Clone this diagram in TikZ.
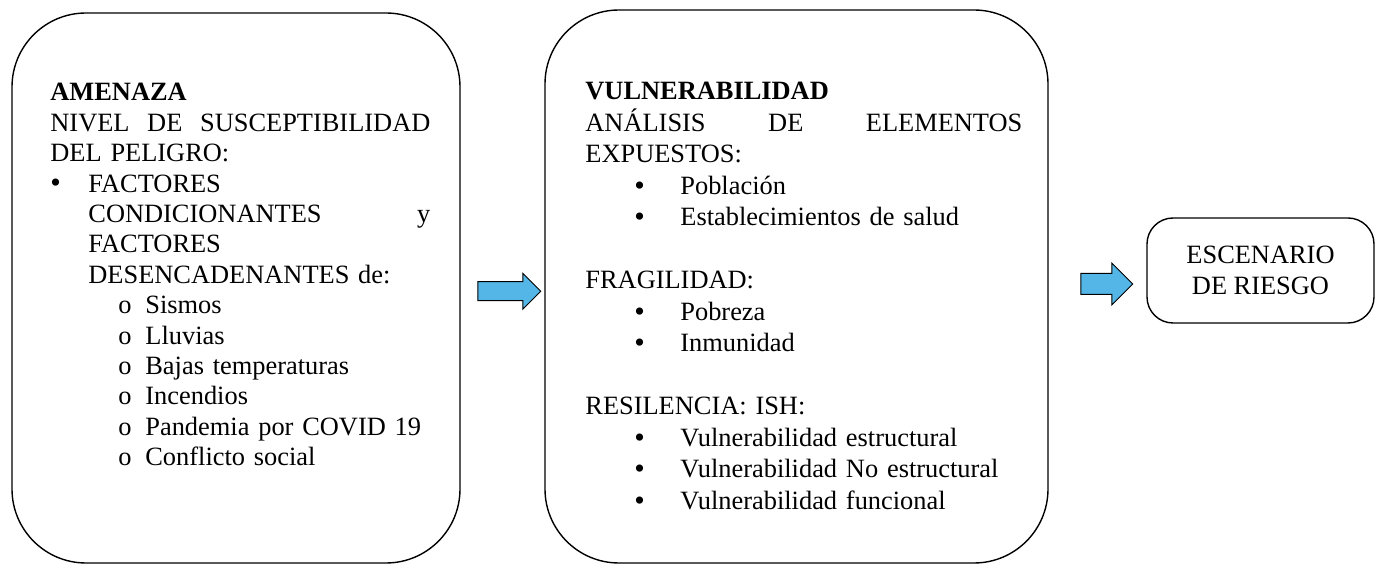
\documentclass[tikz,border=0pt]{standalone}
\usepackage{fontspec}
\setmainfont{Liberation Serif}
\usetikzlibrary{shapes.arrows,calc}
\definecolor{flecha}{RGB}{84,182,230}
\newcommand{\bola}{\raisebox{-0.4pt}{\fontsize{15pt}{15pt}\selectfont\textbullet}}
\newcommand{\punto}[1]{\hspace*{24.5pt}\makebox[23pt][l]{\bola}#1}
\newcommand{\circulo}[1]{\hspace*{34pt}\makebox[13.5pt][l]{o}#1}

\begin{document}
\begin{tikzpicture}[x=0.5pt,y=-0.5pt,
		caja/.style={draw, line width=0.7pt, rounded corners=37pt},
		texto/.style={anchor=north west, inner sep=0pt, align=left, font=\fontsize{13.2pt}{15.2pt}\selectfont},
		flechita/.style={single arrow, draw, fill=flecha, line width=0.5pt, inner xsep=0pt}]
		\useasboundingbox (0,0) rectangle (1377,566);
		
		% cajas
		\node[caja, minimum width=224pt, minimum height=275pt] (amenaza) at (236,288) {};
		\node[caja, minimum width=251.5pt, minimum height=276.5pt] (vulner) at (796.5,286.5) {};
		\node[caja, rounded corners=13pt, minimum width=113.5pt, minimum height=52.5pt, align=center,
			font=\fontsize{13.2pt}{15.2pt}\selectfont] (escenario) at (1260.5,270.5) {ESCENARIO\\DE RIESGO};
		
		% textos
		\node[texto, text width=190pt] (amenazaTxt) at (50,83) {\textbf{AMENAZA}\\
			NIVEL \hfill DE \hfill SUSCEPTIBILIDAD\\
			DEL PELIGRO:\\
			\makebox[19pt][l]{\bola}FACTORES\\
			\hspace*{19pt}CONDICIONANTES \hfill y\\
			\hspace*{19pt}FACTORES\\
			\hspace*{19pt}DESENCADENANTES de:\\
			\circulo{Sismos}\\
			\circulo{Lluvias}\\
			\circulo{Bajas temperaturas}\\
			\circulo{Incendios}\\
			\circulo{Pandemia por COVID 19}\\
			\circulo{Conflicto social}};
		\node[texto, text width=218.5pt, font=\fontsize{13.2pt}{15.75pt}\selectfont] (vulnerTxt) at (585,82) {\textbf{VULNERABILIDAD}\\
			ANÁLISIS \hfill DE \hfill ELEMENTOS\\
			EXPUESTOS:\\
			\punto{Población}\\
			\punto{Establecimientos de salud}\\[15.75pt]
			FRAGILIDAD:\\
			\punto{Pobreza}\\
			\punto{Inmunidad}\\[15.75pt]
			RESILENCIA: ISH:\\
			\punto{Vulnerabilidad estructural}\\
			\punto{Vulnerabilidad No estructural}\\
			\punto{Vulnerabilidad funcional}};
		
		% flechas
		\node[flechita, minimum height=31.5pt, inner ysep=4.5pt, single arrow head extend=4.25pt]
			(flecha1) at ($(amenaza.east)!0.5!(vulner.west)+(2,4)$) {};
		\node[flechita, minimum height=26pt, inner ysep=5pt, single arrow head extend=5.25pt]
			(flecha2) at ($(vulner.east)!0.5!(escenario.west)+(4,5.5)$) {};
	\end{tikzpicture}
\end{document}
